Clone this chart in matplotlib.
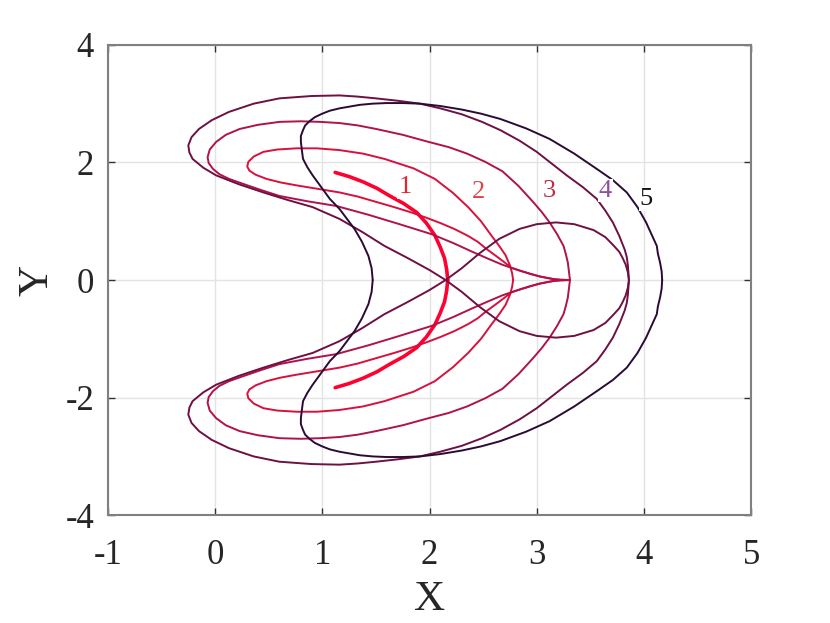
import numpy as np
import matplotlib
matplotlib.use("Agg")
import matplotlib.pyplot as plt

# upper halves of the five level curves (lower halves are the mirror image in y)
c1_x = [1.12, 1.25, 1.38, 1.51, 1.63, 1.76, 1.88, 1.97, 2.05, 2.10, 2.14, 2.16, 2.17]
c1_y = [1.83, 1.76, 1.67, 1.56, 1.43, 1.30, 1.15, 0.97, 0.76, 0.56, 0.37, 0.18, 0.00]

c2_x = [2.78, 2.77, 2.75, 2.71, 2.65, 2.58, 2.48, 2.36, 2.22, 2.05, 1.85, 1.58, 1.38,
        1.16, 0.95, 0.76, 0.58, 0.45, 0.36, 0.31, 0.30, 0.32, 0.38, 0.48, 0.61, 0.76,
        0.96, 1.16, 1.33, 1.50, 1.67, 1.83, 1.97, 2.10, 2.23, 2.36, 2.45, 2.53, 2.62,
        2.70, 2.76, 2.86, 2.95, 3.03, 3.10, 3.16, 3.22, 3.31]
c2_y = [0.00, 0.12, 0.25, 0.42, 0.58, 0.75, 1.00, 1.24, 1.48, 1.72, 1.90, 2.06, 2.15,
        2.21, 2.24, 2.24, 2.22, 2.18, 2.10, 2.01, 1.93, 1.86, 1.79, 1.72, 1.66, 1.61,
        1.55, 1.49, 1.42, 1.33, 1.24, 1.15, 1.06, 0.97, 0.87, 0.75, 0.65, 0.53, 0.41,
        0.30, 0.21, 0.15, 0.10, 0.06, 0.035, 0.015, 0.005, 0.00]

c3_x = [3.31, 3.30, 3.29, 3.27, 3.25, 3.19, 3.12, 3.05, 2.97, 2.83, 2.68, 2.52, 2.35,
        2.18, 1.99, 1.75, 1.50, 1.33, 1.16, 0.98, 0.80, 0.60, 0.40, 0.23, 0.10, 0.01,
        -0.05, -0.07, -0.06, -0.02, 0.04, 0.13, 0.27, 0.43, 0.60, 0.86, 1.13, 1.43,
        1.72, 2.02, 2.22, 2.40, 2.55, 2.68, 2.76, 2.86, 2.95, 3.03, 3.10, 3.16, 3.22,
        3.31]
c3_y = [0.00, 0.15, 0.30, 0.45, 0.58, 0.78, 0.98, 1.15, 1.32, 1.60, 1.85, 2.01, 2.15,
        2.26, 2.35, 2.47, 2.57, 2.63, 2.67, 2.69, 2.70, 2.69, 2.64, 2.57, 2.47, 2.35,
        2.22, 2.09, 1.99, 1.89, 1.80, 1.72, 1.63, 1.53, 1.43, 1.34, 1.26, 1.11,
        0.95, 0.78, 0.63, 0.48, 0.36, 0.26, 0.21, 0.15, 0.10, 0.06, 0.035, 0.015, 0.005,
        0.00]

# level 4 folds through (2.15, 0) into the loop on the right
c4_x = [3.86, 3.855, 3.85, 3.84, 3.82, 3.77, 3.71, 3.64, 3.56, 3.43, 3.28, 3.14, 3.00,
        2.84, 2.66, 2.49, 2.30, 2.10, 1.91, 1.70, 1.50, 1.33, 1.16, 0.90, 0.60, 0.36,
        0.13, -0.03, -0.15, -0.22, -0.25, -0.24, -0.21, -0.11, 0.01, 0.22, 0.45, 0.68,
        0.91, 1.16, 1.37, 1.58, 1.80, 2.00, 2.15, 2.30, 2.47, 2.65, 2.84, 3.00, 3.18,
        3.35, 3.53, 3.64, 3.71, 3.77, 3.80, 3.83, 3.85, 3.86]
c4_y = [0.00, 0.13, 0.25, 0.39, 0.52, 0.75, 0.98, 1.18, 1.38, 1.58, 1.78, 1.98, 2.18,
        2.37, 2.55, 2.69, 2.82, 2.92, 3.00, 3.05, 3.09, 3.12, 3.14, 3.13, 3.09, 3.00,
        2.86, 2.72, 2.57, 2.43, 2.29, 2.17, 2.06, 1.91, 1.78, 1.63, 1.49, 1.36,
        1.24, 1.04, 0.82, 0.58, 0.37, 0.17, 0.00, -0.20, -0.46, -0.70, -0.87, -0.95, -0.98,
        -0.95, -0.85, -0.73, -0.60, -0.48, -0.38, -0.26, -0.13, 0.00]

c5_x = [4.17, 4.165, 4.15, 4.13, 4.12, 4.07, 4.02, 3.94, 3.84, 3.71, 3.56, 3.35, 3.12,
        2.90, 2.66, 2.48, 2.30, 2.10, 1.91, 1.75, 1.60, 1.47, 1.35, 1.16, 1.07, 1.00,
        0.93, 0.88, 0.84, 0.82, 0.80, 0.80, 0.81, 0.82, 0.86, 0.91, 0.99, 1.07, 1.16,
        1.23, 1.30, 1.37, 1.43, 1.46, 1.47]
c5_y = [0.00, 0.15, 0.30, 0.45, 0.58, 0.78, 0.98, 1.24, 1.49, 1.70, 1.89, 2.15, 2.40,
        2.58, 2.74, 2.83, 2.90, 2.96, 3.00, 3.01, 3.01, 3.00, 2.98, 2.92, 2.88, 2.83,
        2.77, 2.70, 2.63, 2.55, 2.45, 2.35, 2.20, 2.06, 1.92, 1.78, 1.58, 1.38, 1.21,
        1.04, 0.87, 0.65, 0.41, 0.20, 0.00]

curves_x = [c1_x, c2_x, c3_x, c4_x, c5_x]
curves_y = [c1_y, c2_y, c3_y, c4_y, c5_y]
levels = ["1", "2", "3", "4", "5"]
label_x = [1.77, 2.46, 3.12, 3.64, 4.02]
label_y = [1.58, 1.49, 1.52, 1.52, 1.38]

line_colors = ["#ff0030", "#d8103e", "#b0124a", "#6e1042", "#2c0a36"]
line_widths = [2.6, 1.4, 1.4, 1.4, 1.4]
label_colors = ["#ee2030", "#e04545", "#b83048", "#8a4fa8", "#111111"]

plt.rcParams["font.family"] = ["Liberation Serif", "DejaVu Serif"]
plt.rcParams["axes.unicode_minus"] = False

fig = plt.figure(figsize=(8.3, 6.23), dpi=100)
ax = fig.add_axes([0.130, 0.173, 0.775, 0.755])

for xs, ys, col, lw in zip(curves_x, curves_y, line_colors, line_widths):
    xs = np.array(xs)
    ys = np.array(ys)
    ax.plot(xs, ys, color=col, lw=lw, solid_capstyle="round", solid_joinstyle="round", zorder=3)
    ax.plot(xs, -ys, color=col, lw=lw, solid_capstyle="round", solid_joinstyle="round", zorder=3)

for lx, ly, txt, col in zip(label_x, label_y, levels, label_colors):
    ax.text(lx, ly, txt, color=col, fontsize=19, ha="center", va="center", zorder=4,
            bbox=dict(facecolor="white", edgecolor="none", pad=0.5))

ax.set_xlim(-1, 5)
ax.set_ylim(-4, 4)
ax.set_xticks(np.arange(-1, 6, 1))
ax.set_yticks(np.arange(-4, 5, 2))
ax.grid(True, color="#e3e3e3", lw=1.0, zorder=0)
ax.set_axisbelow(True)

ax.tick_params(direction="in", length=5, width=1, color="#333333", top=True, right=True,
               labelsize=25, labelcolor="#262626")
ax.tick_params(axis="x", pad=17)
ax.tick_params(axis="y", pad=10)
for s in ax.spines.values():
    s.set_color("#808080")
    s.set_linewidth(1.5)

ax.set_xlabel("X", fontsize=31, color="#262626", labelpad=6)
ax.set_ylabel("Y", fontsize=31, color="#262626", labelpad=6)

fig.savefig("out.png", dpi=100)
